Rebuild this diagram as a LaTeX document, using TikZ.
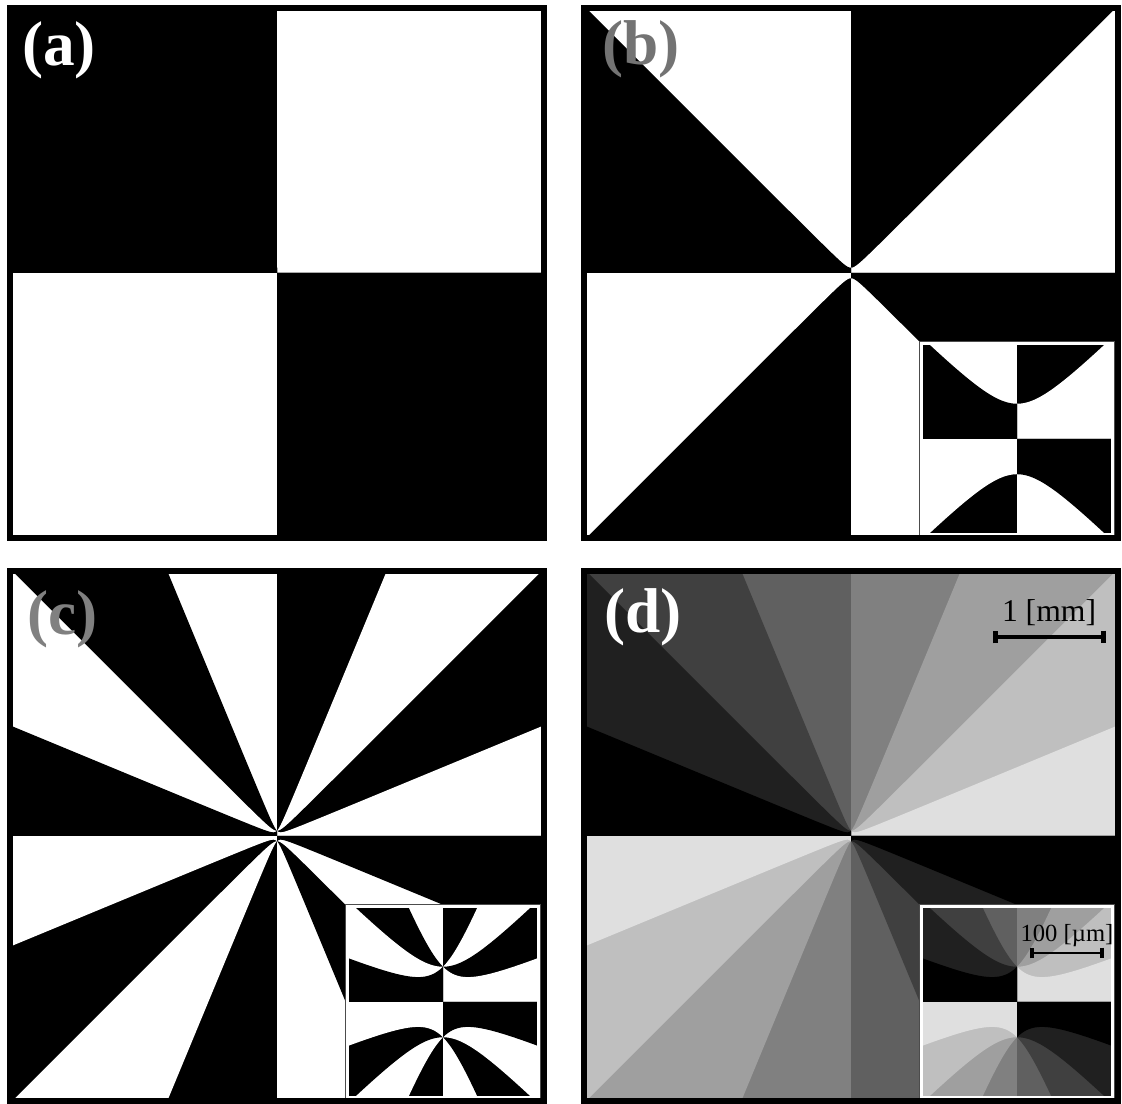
\documentclass[tikz,border=0pt]{standalone}
\usepackage{fontspec}
\setmainfont{Liberation Serif}
\usetikzlibrary{arrows.meta}

% one phase wedge in the first quadrant: colour, phase (deg), a
\newcommand{\phasewedge}[3]{%
  \pgfmathsetmacro\wsk{#3*sqrt(sin(#2)/2)}%
  \pgfmathsetmacro\wsa{0.5*ln(tan(#2/2))}%
  \pgfmathsetmacro\wsb{ln(2/\wsk)}%
  \fill[#1] plot[domain=\wsa:\wsb, samples=70, variable=\s]
    ({\wsk*(exp(\s)*cos(#2/2)-exp(-\s)*sin(#2/2))},
     {\wsk*(exp(\s)*sin(#2/2)+exp(-\s)*cos(#2/2))})
    -- (2,2) -- (2,0) -- (0,0) -- cycle;}

\newcommand{\phasequad}[5]{%
  \fill[#2] (0,0) rectangle (2,2);
  \phasewedge{#3}{135}{#1}
  \phasewedge{#4}{90}{#1}
  \phasewedge{#5}{45}{#1}}

\newcommand{\phasemap}[9]{%
  \begin{scope}
    \clip (-1,-1) rectangle (1,1);
    \foreach \rot in {0,180} {\begin{scope}[rotate=\rot]\phasequad{#1}{#2}{#3}{#4}{#5}\end{scope}}
    \begin{scope}[xscale=-1]\phasequad{#1}{#6}{#7}{#8}{#9}\end{scope}
    \begin{scope}[yscale=-1]\phasequad{#1}{#6}{#7}{#8}{#9}\end{scope}
  \end{scope}}

\begin{document}
\begin{tikzpicture}[x=0.025cm, y=0.025cm,
    panelframe/.style={draw=black, line width=4.3pt},
    insetframe/.style={draw=white, line width=2.2pt},
    insetedge/.style={draw=black!70, line width=0.6pt},
    panellabel/.style={font=\fontsize{45}{45}\selectfont\bfseries, anchor=base west, inner sep=0pt},
    barlabel/.style={font=\fontsize{22.5}{22.5}\selectfont, anchor=base, inner sep=0pt},
    smalllabel/.style={font=\fontsize{17.5}{17.5}\selectfont, anchor=base, inner sep=0pt},
    scalebar/.style={line width=2.8pt, arrows={Bar[width=9pt,line width=3.4pt]-Bar[width=9pt,line width=3.4pt]}},
    smallbar/.style={line width=2pt, arrows={Bar[width=7.5pt,line width=2.6pt]-Bar[width=7.5pt,line width=2.6pt]}}]
\useasboundingbox (0,0) rectangle (1122,1103);
\fill[white] (0,0) rectangle (1122,1103);

% (a)
\begin{scope}[shift={(277,830)}]
  \begin{scope}[scale=264]
    \phasemap{0.02}{white}{white}{white}{white}{black}{black}{black}{black}
  \end{scope}
  \draw[panelframe] (-267,-265) rectangle (267,265);
  \node[panellabel, text=white] (lab-a) at (-255,207) {(a)};
\end{scope}

% (b)
\begin{scope}[shift={(851,830)}]
  \begin{scope}[scale=264]
    \phasemap{0.02}{black}{black}{white}{white}{white}{white}{black}{black}
  \end{scope}
  \begin{scope}[shift={(166,-166)}]
    \begin{scope}[scale=94]
      \phasemap{0.375}{black}{black}{white}{white}{white}{white}{black}{black}
    \end{scope}
    \draw[insetframe] (-95.5,-95.5) rectangle (95.5,95.5);
    \draw[insetedge] (-97.4,-97.4) rectangle (97.4,97.4);
  \end{scope}
  \draw[panelframe] (-267,-265) rectangle (267,265);
  \node[panellabel, text=black!55] (lab-b) at (-249,208) {(b)};
\end{scope}

% (c)
\begin{scope}[shift={(277,267)}]
  \begin{scope}[scale=264]
    \phasemap{0.02}{black}{white}{black}{white}{white}{black}{white}{black}
  \end{scope}
  \begin{scope}[shift={(166,-166)}]
    \begin{scope}[scale=94]
      \phasemap{0.375}{black}{white}{black}{white}{white}{black}{white}{black}
    \end{scope}
    \draw[insetframe] (-95.5,-95.5) rectangle (95.5,95.5);
    \draw[insetedge] (-97.4,-97.4) rectangle (97.4,97.4);
  \end{scope}
  \draw[panelframe] (-267,-265) rectangle (267,265);
  \node[panellabel, text=black!50] (lab-c) at (-250,201) {(c)};
\end{scope}

% (d)
\begin{scope}[shift={(851,267)}]
  \begin{scope}[scale=264]
    \phasemap{0.02}{black!50}{black!37.5}{black!25}{black!12.5}{black!62.5}{black!75}{black!87.5}{black}
  \end{scope}
  \begin{scope}[shift={(166,-166)}]
    \begin{scope}[scale=94]
      \phasemap{0.375}{black!50}{black!37.5}{black!25}{black!12.5}{black!62.5}{black!75}{black!87.5}{black}
    \end{scope}
    \draw[insetframe] (-95.5,-95.5) rectangle (95.5,95.5);
    \draw[insetedge] (-97.4,-97.4) rectangle (97.4,97.4);
  \end{scope}
  \draw[panelframe] (-267,-265) rectangle (267,265);
  \node[panellabel, text=white] (lab-d) at (-247,203) {(d)};
  \coordinate (mm-l) at (142,199);
  \coordinate (mm-r) at (255,199);
  \draw[scalebar] (mm-l) -- (mm-r);
  \node[barlabel] (mm-text) at (198,214) {1 [mm]};
  \coordinate (um-l) at (179,-117);
  \coordinate (um-r) at (253,-117);
  \draw[smallbar] (um-l) -- (um-r);
  \node[smalllabel] (um-text) at (216,-106) {100 [µm]};
\end{scope}
\end{tikzpicture}
\end{document}
